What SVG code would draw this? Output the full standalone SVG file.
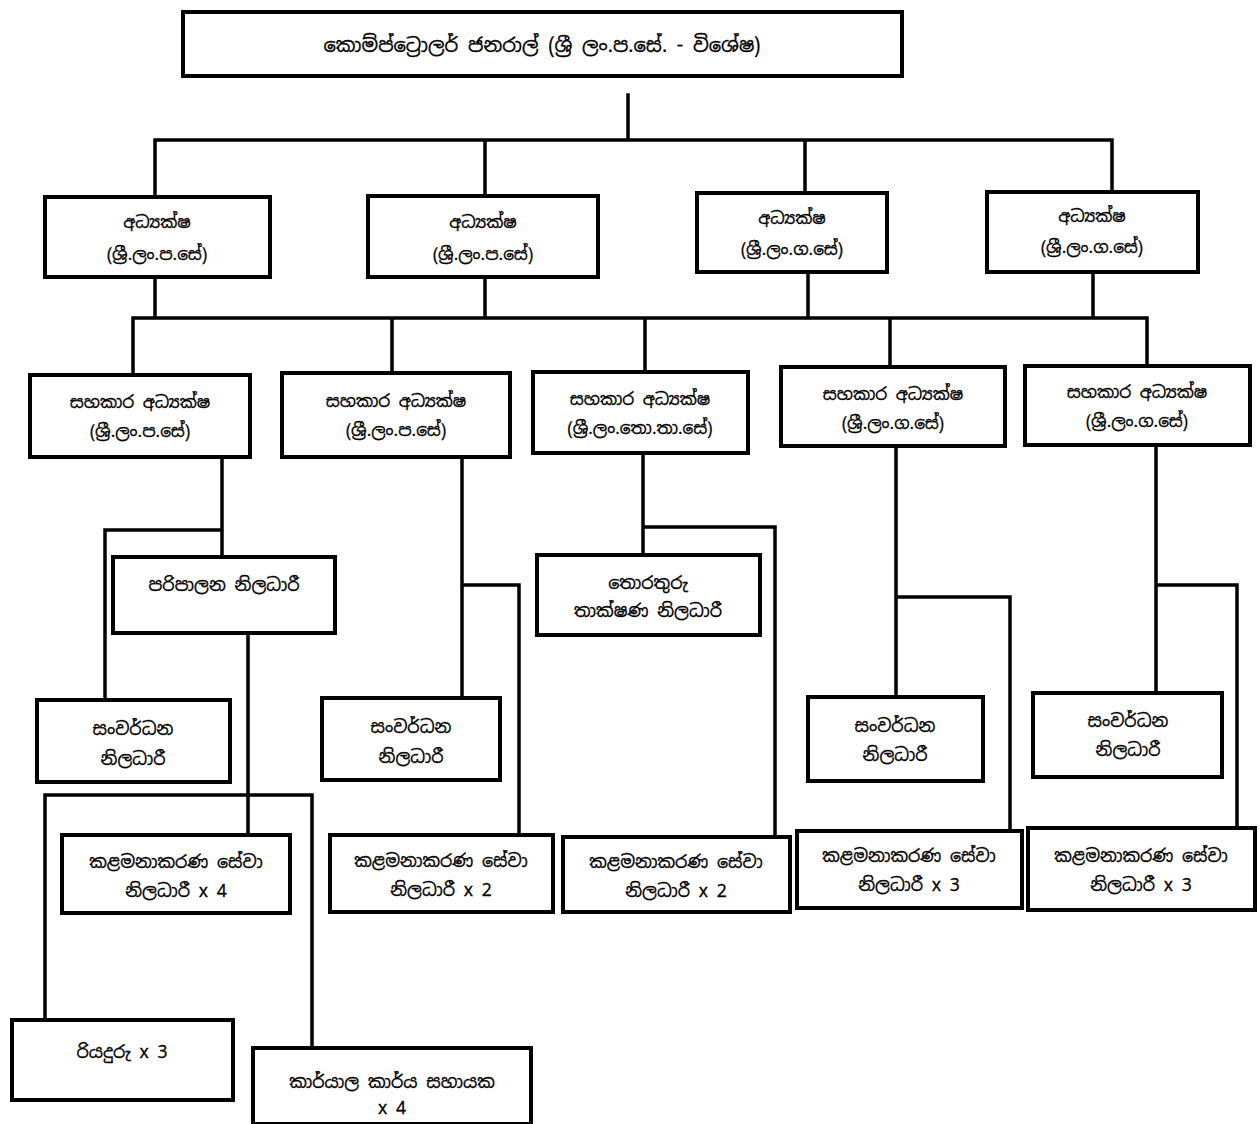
<svg xmlns="http://www.w3.org/2000/svg" width="1260" height="1124" viewBox="0 0 1260 1124">
<style>
.box{fill:#fff;stroke:#000;stroke-width:4}
.ln{fill:none;stroke:#000;stroke-width:3.5;stroke-linecap:square}
text{font-family:"Noto Sans Sinhala","Noto Sans","Liberation Sans",sans-serif;fill:#000;stroke:#000;stroke-width:0.3;text-anchor:middle;font-size:17px}
.t1{font-size:19.5px}
.t3{font-size:17.5px}
</style>
<rect width="1260" height="1124" fill="#fff"/>
<g id="connectors">
<path class="ln" d="M628 95V140M155 140H1112M155 140V197M485 140V196M805 140V193M1112 140V192"/>
<path class="ln" d="M155 277V318M485 277V318M808 272V318M1093 272V318M133 318H1147M133 318V375M392 318V373M645 318V372M890 318V367M1147 318V366"/>
<path class="ln" d="M222 457V557M105 530H222M105 530V700M248 633V835M45 795H312M45 795V1020M312 795V1048"/>
<path class="ln" d="M462 457V698M462 585H519V835"/>
<path class="ln" d="M643 453V555M643 527H775V837"/>
<path class="ln" d="M896 446V697M896 597H1010V830"/>
<path class="ln" d="M1156 445V692M1156 585H1237V828"/>
</g>
<g id="n-top"><rect class="box" x="183" y="12" width="719" height="64"/><text class="t1" x="542" y="52">කොම්ප්ට්‍රොලර් ජනරාල් (ශ්‍රී ලං.ප.සේ. - විශේෂ)</text></g>
<g id="n-d1"><rect class="box" x="45" y="197" width="225" height="80"/><text x="157" y="228">අධ්‍යක්ෂ</text><text x="157" y="260">(ශ්‍රී.ලං.ප.සේ)</text></g>
<g id="n-d2"><rect class="box" x="368" y="196" width="230" height="81"/><text x="483" y="228">අධ්‍යක්ෂ</text><text x="483" y="260">(ශ්‍රී.ලං.ප.සේ)</text></g>
<g id="n-d3"><rect class="box" x="697" y="193" width="190" height="79"/><text x="792" y="224">අධ්‍යක්ෂ</text><text x="792" y="255">(ශ්‍රී.ලං.ග.සේ)</text></g>
<g id="n-d4"><rect class="box" x="987" y="192" width="211" height="80"/><text x="1092" y="222">අධ්‍යක්ෂ</text><text x="1092" y="253">(ශ්‍රී.ලං.ග.සේ)</text></g>
<g id="n-a1"><rect class="box" x="30" y="375" width="220" height="82"/><text x="140" y="408">සහකාර අධ්‍යක්ෂ</text><text x="140" y="437">(ශ්‍රී.ලං.ප.සේ)</text></g>
<g id="n-a2"><rect class="box" x="282" y="373" width="228" height="84"/><text x="396" y="407">සහකාර අධ්‍යක්ෂ</text><text x="396" y="436">(ශ්‍රී.ලං.ප.සේ)</text></g>
<g id="n-a3"><rect class="box" x="533" y="372" width="215" height="81"/><text x="640" y="405">සහකාර අධ්‍යක්ෂ</text><text x="640" y="434">(ශ්‍රී.ලං.තො.තා.සේ)</text></g>
<g id="n-a4"><rect class="box" x="781" y="367" width="224" height="79"/><text x="893" y="400">සහකාර අධ්‍යක්ෂ</text><text x="893" y="429">(ශ්‍රී.ලං.ග.සේ)</text></g>
<g id="n-a5"><rect class="box" x="1025" y="366" width="225" height="79"/><text x="1137" y="398">සහකාර අධ්‍යක්ෂ</text><text x="1137" y="427">(ශ්‍රී.ලං.ග.සේ)</text></g>
<g id="n-admin"><rect class="box" x="113" y="557" width="222" height="76"/><text class="t3" x="224" y="591">පරිපාලන නිලධාරී</text></g>
<g id="n-dev1"><rect class="box" x="37" y="700" width="193" height="82"/><text class="t3" x="133" y="735">සංවර්ධන</text><text class="t3" x="133" y="765">නිලධාරී</text></g>
<g id="n-it"><rect class="box" x="537" y="555" width="223" height="80"/><text class="t3" x="648" y="589">තොරතුරු</text><text class="t3" x="648" y="617">තාක්ෂණ නිලධාරී</text></g>
<g id="n-dev2"><rect class="box" x="322" y="698" width="178" height="82"/><text class="t3" x="411" y="733">සංවර්ධන</text><text class="t3" x="411" y="763">නිලධාරී</text></g>
<g id="n-dev3"><rect class="box" x="808" y="697" width="175" height="84"/><text class="t3" x="895" y="732">සංවර්ධන</text><text class="t3" x="895" y="761">නිලධාරී</text></g>
<g id="n-dev4"><rect class="box" x="1033" y="693" width="189" height="84"/><text class="t3" x="1128" y="727">සංවර්ධන</text><text class="t3" x="1128" y="756">නිලධාරී</text></g>
<g id="n-m1"><rect class="box" x="62" y="835" width="228" height="78"/><text class="t3" x="176" y="868">කළමනාකරණ සේවා</text><text class="t3" x="176" y="897">නිලධාරී x 4</text></g>
<g id="n-m2"><rect class="box" x="330" y="835" width="223" height="77"/><text class="t3" x="441" y="867">කළමනාකරණ සේවා</text><text class="t3" x="441" y="896">නිලධාරී x 2</text></g>
<g id="n-m3"><rect class="box" x="563" y="837" width="227" height="75"/><text class="t3" x="676" y="868">කළමනාකරණ සේවා</text><text class="t3" x="676" y="897">නිලධාරී x 2</text></g>
<g id="n-m4"><rect class="box" x="797" y="831" width="225" height="77"/><text class="t3" x="909" y="862">කළමනාකරණ සේවා</text><text class="t3" x="909" y="891">නිලධාරී x 3</text></g>
<g id="n-m5"><rect class="box" x="1028" y="828" width="227" height="82"/><text class="t3" x="1141" y="862">කළමනාකරණ සේවා</text><text class="t3" x="1141" y="891">නිලධාරී x 3</text></g>
<g id="n-driver"><rect class="box" x="12" y="1020" width="221" height="80"/><text class="t3" x="122" y="1058">රියදුරු x 3</text></g>
<g id="n-office"><rect class="box" x="253" y="1048" width="278" height="76"/><text class="t3" x="392" y="1088">කාර්යාල කාර්ය සහායක</text><text class="t3" x="392" y="1114">x 4</text></g>
</svg>
